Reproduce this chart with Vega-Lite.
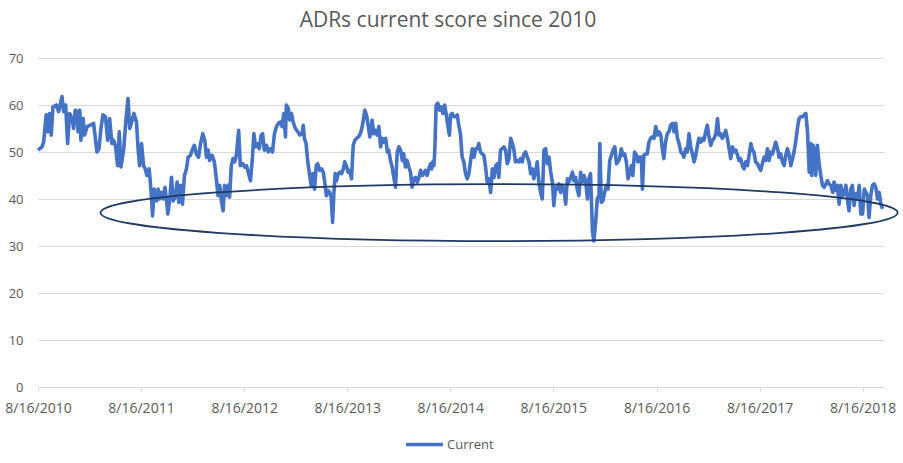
{
  "$schema": "https://vega.github.io/schema/vega-lite/v6.json",
  "width": 846,
  "height": 329,
  "autosize": {"type": "none"},
  "padding": {"left": 38, "top": 58, "right": 19, "bottom": 76},
  "background": "white",
  "config": {
    "view": {"stroke": null},
    "font": "Open Sans"
  },
  "title": {
    "text": "ADRs current score since 2010",
    "font": "Open Sans",
    "fontSize": 21,
    "fontWeight": "normal",
    "color": "#595959",
    "anchor": "middle",
    "dx": -13,
    "offset": 21
  },
  "layer": [
    {
      "data": {
        "values": [
          {"date": "2010-08-16", "score": 50.4},
          {"date": "2010-08-30", "score": 51.1},
          {"date": "2010-09-05", "score": 52.1},
          {"date": "2010-09-14", "score": 57.9},
          {"date": "2010-09-20", "score": 54.3},
          {"date": "2010-09-26", "score": 58.2},
          {"date": "2010-10-02", "score": 53.6},
          {"date": "2010-10-08", "score": 59.6},
          {"date": "2010-10-20", "score": 60},
          {"date": "2010-10-28", "score": 58.6},
          {"date": "2010-11-09", "score": 61.8},
          {"date": "2010-11-15", "score": 58.6},
          {"date": "2010-11-22", "score": 60},
          {"date": "2010-11-29", "score": 51.8},
          {"date": "2010-12-06", "score": 58.2},
          {"date": "2010-12-15", "score": 57.1},
          {"date": "2010-12-20", "score": 55},
          {"date": "2010-12-26", "score": 58.9},
          {"date": "2011-01-01", "score": 58.6},
          {"date": "2011-01-05", "score": 54.3},
          {"date": "2011-01-11", "score": 58.9},
          {"date": "2011-01-15", "score": 52.5},
          {"date": "2011-01-23", "score": 57.1},
          {"date": "2011-01-28", "score": 53.6},
          {"date": "2011-02-06", "score": 55.4},
          {"date": "2011-02-17", "score": 55.7},
          {"date": "2011-03-01", "score": 56.1},
          {"date": "2011-03-13", "score": 50},
          {"date": "2011-03-20", "score": 50.7},
          {"date": "2011-03-27", "score": 55},
          {"date": "2011-04-03", "score": 57.9},
          {"date": "2011-04-12", "score": 57.5},
          {"date": "2011-04-20", "score": 52.5},
          {"date": "2011-04-27", "score": 57.1},
          {"date": "2011-05-05", "score": 51.8},
          {"date": "2011-05-11", "score": 52.5},
          {"date": "2011-05-18", "score": 51.1},
          {"date": "2011-05-25", "score": 47.1},
          {"date": "2011-05-31", "score": 54.3},
          {"date": "2011-06-06", "score": 46.8},
          {"date": "2011-06-16", "score": 50.7},
          {"date": "2011-06-23", "score": 56.4},
          {"date": "2011-07-01", "score": 61.4},
          {"date": "2011-07-07", "score": 55},
          {"date": "2011-07-14", "score": 56.4},
          {"date": "2011-07-22", "score": 58.2},
          {"date": "2011-07-31", "score": 56.4},
          {"date": "2011-08-06", "score": 50.4},
          {"date": "2011-08-11", "score": 47.1},
          {"date": "2011-08-18", "score": 51.8},
          {"date": "2011-08-25", "score": 47.1},
          {"date": "2011-08-31", "score": 46.4},
          {"date": "2011-09-06", "score": 45},
          {"date": "2011-09-14", "score": 46.4},
          {"date": "2011-09-21", "score": 41.4},
          {"date": "2011-09-26", "score": 36.4},
          {"date": "2011-10-02", "score": 42.1},
          {"date": "2011-10-10", "score": 39.6},
          {"date": "2011-10-16", "score": 42.1},
          {"date": "2011-10-21", "score": 40},
          {"date": "2011-10-28", "score": 41.4},
          {"date": "2011-11-03", "score": 40},
          {"date": "2011-11-09", "score": 42.5},
          {"date": "2011-11-16", "score": 38.9},
          {"date": "2011-11-19", "score": 36.8},
          {"date": "2011-11-26", "score": 40},
          {"date": "2011-12-02", "score": 44.6},
          {"date": "2011-12-08", "score": 39.6},
          {"date": "2011-12-15", "score": 40.4},
          {"date": "2011-12-22", "score": 43.6},
          {"date": "2011-12-28", "score": 39.3},
          {"date": "2012-01-03", "score": 42.9},
          {"date": "2012-01-10", "score": 38.9},
          {"date": "2012-01-17", "score": 45},
          {"date": "2012-01-24", "score": 46.4},
          {"date": "2012-01-30", "score": 48.9},
          {"date": "2012-02-07", "score": 49.3},
          {"date": "2012-02-15", "score": 50.7},
          {"date": "2012-02-21", "score": 51.4},
          {"date": "2012-02-28", "score": 49.6},
          {"date": "2012-03-07", "score": 48.9},
          {"date": "2012-03-14", "score": 51.8},
          {"date": "2012-03-22", "score": 53.9},
          {"date": "2012-03-29", "score": 52.5},
          {"date": "2012-04-04", "score": 48.9},
          {"date": "2012-04-10", "score": 50.4},
          {"date": "2012-04-15", "score": 48.2},
          {"date": "2012-04-24", "score": 49.3},
          {"date": "2012-05-02", "score": 47.9},
          {"date": "2012-05-09", "score": 44.3},
          {"date": "2012-05-15", "score": 40.7},
          {"date": "2012-05-21", "score": 42.9},
          {"date": "2012-05-27", "score": 39.6},
          {"date": "2012-06-02", "score": 37.5},
          {"date": "2012-06-07", "score": 42.9},
          {"date": "2012-06-13", "score": 40.7},
          {"date": "2012-06-20", "score": 42.9},
          {"date": "2012-06-25", "score": 40.4},
          {"date": "2012-07-01", "score": 47.1},
          {"date": "2012-07-07", "score": 48.6},
          {"date": "2012-07-13", "score": 47.9},
          {"date": "2012-07-19", "score": 49.3},
          {"date": "2012-07-27", "score": 54.6},
          {"date": "2012-08-02", "score": 47.1},
          {"date": "2012-08-11", "score": 47.5},
          {"date": "2012-08-17", "score": 46.8},
          {"date": "2012-08-24", "score": 47.1},
          {"date": "2012-08-30", "score": 45.7},
          {"date": "2012-09-07", "score": 43.9},
          {"date": "2012-09-14", "score": 48.9},
          {"date": "2012-09-19", "score": 53.9},
          {"date": "2012-09-25", "score": 51.1},
          {"date": "2012-10-01", "score": 51.8},
          {"date": "2012-10-08", "score": 50.7},
          {"date": "2012-10-15", "score": 53.6},
          {"date": "2012-10-20", "score": 53.9},
          {"date": "2012-10-26", "score": 50.4},
          {"date": "2012-11-03", "score": 51.4},
          {"date": "2012-11-09", "score": 50},
          {"date": "2012-11-17", "score": 50.7},
          {"date": "2012-11-24", "score": 50},
          {"date": "2012-12-01", "score": 53.9},
          {"date": "2012-12-08", "score": 55.4},
          {"date": "2012-12-15", "score": 56.1},
          {"date": "2012-12-22", "score": 56.4},
          {"date": "2012-12-28", "score": 55.4},
          {"date": "2013-01-03", "score": 58.2},
          {"date": "2013-01-09", "score": 53.2},
          {"date": "2013-01-12", "score": 60},
          {"date": "2013-01-19", "score": 59.3},
          {"date": "2013-01-24", "score": 56.8},
          {"date": "2013-01-30", "score": 58.2},
          {"date": "2013-02-05", "score": 56.4},
          {"date": "2013-02-13", "score": 55},
          {"date": "2013-02-22", "score": 54.3},
          {"date": "2013-03-01", "score": 53.6},
          {"date": "2013-03-09", "score": 53.9},
          {"date": "2013-03-13", "score": 55.7},
          {"date": "2013-03-17", "score": 52.9},
          {"date": "2013-03-23", "score": 51.8},
          {"date": "2013-03-29", "score": 47.9},
          {"date": "2013-04-05", "score": 45},
          {"date": "2013-04-10", "score": 42.9},
          {"date": "2013-04-16", "score": 45.4},
          {"date": "2013-04-22", "score": 42.1},
          {"date": "2013-04-28", "score": 47.1},
          {"date": "2013-05-03", "score": 47.5},
          {"date": "2013-05-11", "score": 46.1},
          {"date": "2013-05-17", "score": 46.4},
          {"date": "2013-05-23", "score": 45.7},
          {"date": "2013-05-28", "score": 43.6},
          {"date": "2013-06-03", "score": 40.7},
          {"date": "2013-06-09", "score": 41.8},
          {"date": "2013-06-15", "score": 41.4},
          {"date": "2013-06-20", "score": 40.4},
          {"date": "2013-06-25", "score": 35},
          {"date": "2013-06-29", "score": 40.7},
          {"date": "2013-07-04", "score": 45.4},
          {"date": "2013-07-09", "score": 43.9},
          {"date": "2013-07-15", "score": 45.4},
          {"date": "2013-07-21", "score": 45.7},
          {"date": "2013-07-27", "score": 45.4},
          {"date": "2013-08-02", "score": 46.4},
          {"date": "2013-08-07", "score": 47.9},
          {"date": "2013-08-13", "score": 47.1},
          {"date": "2013-08-19", "score": 45.7},
          {"date": "2013-08-25", "score": 46.1},
          {"date": "2013-08-31", "score": 44.3},
          {"date": "2013-09-06", "score": 51.4},
          {"date": "2013-09-12", "score": 52.5},
          {"date": "2013-09-18", "score": 52.9},
          {"date": "2013-09-24", "score": 53.2},
          {"date": "2013-09-29", "score": 53.6},
          {"date": "2013-10-05", "score": 54.6},
          {"date": "2013-10-11", "score": 56.4},
          {"date": "2013-10-17", "score": 58.9},
          {"date": "2013-10-23", "score": 57.9},
          {"date": "2013-10-29", "score": 55.7},
          {"date": "2013-11-04", "score": 53.2},
          {"date": "2013-11-09", "score": 55},
          {"date": "2013-11-12", "score": 56.8},
          {"date": "2013-11-18", "score": 53.9},
          {"date": "2013-11-24", "score": 54.6},
          {"date": "2013-11-30", "score": 53.6},
          {"date": "2013-12-06", "score": 55.4},
          {"date": "2013-12-12", "score": 51.1},
          {"date": "2013-12-18", "score": 52.9},
          {"date": "2013-12-23", "score": 52.1},
          {"date": "2013-12-30", "score": 52.9},
          {"date": "2014-01-05", "score": 50},
          {"date": "2014-01-10", "score": 50.4},
          {"date": "2014-01-16", "score": 48.2},
          {"date": "2014-01-22", "score": 46.8},
          {"date": "2014-01-28", "score": 44.6},
          {"date": "2014-02-03", "score": 42.5},
          {"date": "2014-02-09", "score": 50},
          {"date": "2014-02-15", "score": 51.1},
          {"date": "2014-02-21", "score": 50.4},
          {"date": "2014-02-27", "score": 48.2},
          {"date": "2014-03-04", "score": 49.6},
          {"date": "2014-03-10", "score": 46.8},
          {"date": "2014-03-16", "score": 48.2},
          {"date": "2014-03-22", "score": 46.8},
          {"date": "2014-03-28", "score": 45.7},
          {"date": "2014-04-03", "score": 42.5},
          {"date": "2014-04-09", "score": 44.3},
          {"date": "2014-04-15", "score": 44.6},
          {"date": "2014-04-21", "score": 43.6},
          {"date": "2014-04-27", "score": 44.6},
          {"date": "2014-05-03", "score": 46.1},
          {"date": "2014-05-09", "score": 45},
          {"date": "2014-05-14", "score": 45.4},
          {"date": "2014-05-20", "score": 46.1},
          {"date": "2014-05-26", "score": 45},
          {"date": "2014-06-01", "score": 46.4},
          {"date": "2014-06-07", "score": 47.5},
          {"date": "2014-06-11", "score": 46.4},
          {"date": "2014-06-15", "score": 47.9},
          {"date": "2014-06-19", "score": 47.1},
          {"date": "2014-06-22", "score": 50},
          {"date": "2014-06-27", "score": 60},
          {"date": "2014-07-03", "score": 60.4},
          {"date": "2014-07-09", "score": 58.9},
          {"date": "2014-07-15", "score": 59.6},
          {"date": "2014-07-21", "score": 58.2},
          {"date": "2014-07-27", "score": 60},
          {"date": "2014-08-02", "score": 57.9},
          {"date": "2014-08-07", "score": 55.7},
          {"date": "2014-08-13", "score": 53.6},
          {"date": "2014-08-17", "score": 57.9},
          {"date": "2014-08-23", "score": 58.2},
          {"date": "2014-08-29", "score": 57.5},
          {"date": "2014-09-04", "score": 57.5},
          {"date": "2014-09-10", "score": 57.9},
          {"date": "2014-09-15", "score": 55.7},
          {"date": "2014-09-21", "score": 53.9},
          {"date": "2014-09-27", "score": 48.9},
          {"date": "2014-10-03", "score": 47.9},
          {"date": "2014-10-09", "score": 45.4},
          {"date": "2014-10-15", "score": 44.3},
          {"date": "2014-10-21", "score": 45.4},
          {"date": "2014-10-27", "score": 48.2},
          {"date": "2014-11-02", "score": 50.7},
          {"date": "2014-11-08", "score": 48.9},
          {"date": "2014-11-14", "score": 50.7},
          {"date": "2014-11-20", "score": 50.7},
          {"date": "2014-11-25", "score": 51.8},
          {"date": "2014-12-01", "score": 50},
          {"date": "2014-12-07", "score": 49.6},
          {"date": "2014-12-13", "score": 49.3},
          {"date": "2014-12-19", "score": 46.8},
          {"date": "2014-12-25", "score": 43.6},
          {"date": "2014-12-31", "score": 44.3},
          {"date": "2015-01-06", "score": 41.4},
          {"date": "2015-01-12", "score": 46.4},
          {"date": "2015-01-18", "score": 44.6},
          {"date": "2015-01-24", "score": 47.1},
          {"date": "2015-01-30", "score": 47.5},
          {"date": "2015-02-04", "score": 44.6},
          {"date": "2015-02-10", "score": 50.4},
          {"date": "2015-02-16", "score": 50.7},
          {"date": "2015-02-22", "score": 51.1},
          {"date": "2015-02-28", "score": 50.4},
          {"date": "2015-03-06", "score": 47.5},
          {"date": "2015-03-12", "score": 48.6},
          {"date": "2015-03-18", "score": 52.9},
          {"date": "2015-03-24", "score": 51.8},
          {"date": "2015-03-29", "score": 50.7},
          {"date": "2015-04-04", "score": 47.9},
          {"date": "2015-04-10", "score": 48.2},
          {"date": "2015-04-16", "score": 47.9},
          {"date": "2015-04-22", "score": 48.6},
          {"date": "2015-04-28", "score": 47.9},
          {"date": "2015-05-04", "score": 49.6},
          {"date": "2015-05-10", "score": 50},
          {"date": "2015-05-16", "score": 48.9},
          {"date": "2015-05-22", "score": 47.9},
          {"date": "2015-05-28", "score": 45.4},
          {"date": "2015-06-03", "score": 46.4},
          {"date": "2015-06-08", "score": 44.3},
          {"date": "2015-06-14", "score": 45.7},
          {"date": "2015-06-20", "score": 47.9},
          {"date": "2015-06-26", "score": 43.6},
          {"date": "2015-07-02", "score": 41.4},
          {"date": "2015-07-08", "score": 40},
          {"date": "2015-07-14", "score": 50.4},
          {"date": "2015-07-20", "score": 50.7},
          {"date": "2015-07-26", "score": 47.5},
          {"date": "2015-08-01", "score": 48.9},
          {"date": "2015-08-07", "score": 45.7},
          {"date": "2015-08-13", "score": 43.6},
          {"date": "2015-08-18", "score": 38.6},
          {"date": "2015-08-24", "score": 42.5},
          {"date": "2015-08-30", "score": 42.1},
          {"date": "2015-09-05", "score": 43.2},
          {"date": "2015-09-11", "score": 41.4},
          {"date": "2015-09-17", "score": 42.9},
          {"date": "2015-09-23", "score": 42.1},
          {"date": "2015-09-29", "score": 38.9},
          {"date": "2015-10-05", "score": 44.3},
          {"date": "2015-10-10", "score": 43.6},
          {"date": "2015-10-17", "score": 44.6},
          {"date": "2015-10-23", "score": 45.7},
          {"date": "2015-10-28", "score": 43.9},
          {"date": "2015-11-03", "score": 44.6},
          {"date": "2015-11-09", "score": 42.1},
          {"date": "2015-11-15", "score": 40.7},
          {"date": "2015-11-21", "score": 45.7},
          {"date": "2015-11-27", "score": 43.6},
          {"date": "2015-12-03", "score": 45},
          {"date": "2015-12-09", "score": 43.6},
          {"date": "2015-12-15", "score": 40},
          {"date": "2015-12-20", "score": 44.3},
          {"date": "2015-12-26", "score": 45.4},
          {"date": "2016-01-02", "score": 32.9},
          {"date": "2016-01-07", "score": 31.1},
          {"date": "2016-01-13", "score": 35},
          {"date": "2016-01-19", "score": 40},
          {"date": "2016-01-25", "score": 40.7},
          {"date": "2016-01-28", "score": 51.8},
          {"date": "2016-02-02", "score": 39.3},
          {"date": "2016-02-08", "score": 39.6},
          {"date": "2016-02-14", "score": 41.4},
          {"date": "2016-02-20", "score": 42.9},
          {"date": "2016-02-26", "score": 42.1},
          {"date": "2016-03-03", "score": 48.2},
          {"date": "2016-03-09", "score": 49.3},
          {"date": "2016-03-15", "score": 50.4},
          {"date": "2016-03-21", "score": 51.1},
          {"date": "2016-03-27", "score": 47.5},
          {"date": "2016-04-01", "score": 47.9},
          {"date": "2016-04-07", "score": 48.6},
          {"date": "2016-04-13", "score": 50.7},
          {"date": "2016-04-19", "score": 49.3},
          {"date": "2016-04-25", "score": 49.6},
          {"date": "2016-05-01", "score": 47.9},
          {"date": "2016-05-07", "score": 44.3},
          {"date": "2016-05-13", "score": 45.7},
          {"date": "2016-05-19", "score": 47.1},
          {"date": "2016-05-24", "score": 45},
          {"date": "2016-05-30", "score": 50},
          {"date": "2016-06-06", "score": 49.3},
          {"date": "2016-06-11", "score": 47.9},
          {"date": "2016-06-17", "score": 48.9},
          {"date": "2016-06-23", "score": 48.9},
          {"date": "2016-06-27", "score": 42.1},
          {"date": "2016-07-02", "score": 49.3},
          {"date": "2016-07-08", "score": 49.6},
          {"date": "2016-07-14", "score": 49.6},
          {"date": "2016-07-20", "score": 52.1},
          {"date": "2016-07-26", "score": 52.9},
          {"date": "2016-08-01", "score": 53.2},
          {"date": "2016-08-07", "score": 52.9},
          {"date": "2016-08-13", "score": 55.4},
          {"date": "2016-08-19", "score": 53.6},
          {"date": "2016-08-25", "score": 54.3},
          {"date": "2016-08-31", "score": 53.6},
          {"date": "2016-09-06", "score": 50.4},
          {"date": "2016-09-11", "score": 48.6},
          {"date": "2016-09-17", "score": 52.1},
          {"date": "2016-09-23", "score": 53.9},
          {"date": "2016-09-29", "score": 54.3},
          {"date": "2016-10-05", "score": 55.7},
          {"date": "2016-10-11", "score": 56.1},
          {"date": "2016-10-17", "score": 54.3},
          {"date": "2016-10-23", "score": 56.1},
          {"date": "2016-10-29", "score": 52.9},
          {"date": "2016-11-04", "score": 51.8},
          {"date": "2016-11-10", "score": 50},
          {"date": "2016-11-16", "score": 49.6},
          {"date": "2016-11-21", "score": 48.9},
          {"date": "2016-11-27", "score": 50.7},
          {"date": "2016-12-03", "score": 50},
          {"date": "2016-12-09", "score": 53.9},
          {"date": "2016-12-15", "score": 51.1},
          {"date": "2016-12-21", "score": 49.6},
          {"date": "2016-12-27", "score": 47.9},
          {"date": "2017-01-02", "score": 49.3},
          {"date": "2017-01-08", "score": 51.4},
          {"date": "2017-01-13", "score": 52.9},
          {"date": "2017-01-20", "score": 52.1},
          {"date": "2017-01-26", "score": 52.9},
          {"date": "2017-01-31", "score": 52.5},
          {"date": "2017-02-06", "score": 54.3},
          {"date": "2017-02-12", "score": 55.7},
          {"date": "2017-02-18", "score": 53.2},
          {"date": "2017-02-24", "score": 51.4},
          {"date": "2017-03-02", "score": 52.5},
          {"date": "2017-03-08", "score": 52.9},
          {"date": "2017-03-14", "score": 53.9},
          {"date": "2017-03-20", "score": 57.1},
          {"date": "2017-03-25", "score": 53.6},
          {"date": "2017-03-31", "score": 53.9},
          {"date": "2017-04-06", "score": 52.9},
          {"date": "2017-04-12", "score": 53.6},
          {"date": "2017-04-18", "score": 54.6},
          {"date": "2017-04-24", "score": 52.9},
          {"date": "2017-04-30", "score": 50.7},
          {"date": "2017-05-06", "score": 48.6},
          {"date": "2017-05-12", "score": 51.1},
          {"date": "2017-05-18", "score": 50},
          {"date": "2017-05-24", "score": 50.4},
          {"date": "2017-05-30", "score": 49.3},
          {"date": "2017-06-04", "score": 48.2},
          {"date": "2017-06-10", "score": 48.6},
          {"date": "2017-06-16", "score": 47.1},
          {"date": "2017-06-22", "score": 46.4},
          {"date": "2017-06-28", "score": 47.9},
          {"date": "2017-07-04", "score": 47.1},
          {"date": "2017-07-10", "score": 49.3},
          {"date": "2017-07-16", "score": 51.8},
          {"date": "2017-07-22", "score": 50.4},
          {"date": "2017-07-27", "score": 50},
          {"date": "2017-08-02", "score": 47.9},
          {"date": "2017-08-09", "score": 47.5},
          {"date": "2017-08-14", "score": 46.8},
          {"date": "2017-08-20", "score": 46.1},
          {"date": "2017-08-26", "score": 47.5},
          {"date": "2017-09-01", "score": 48.9},
          {"date": "2017-09-07", "score": 48.2},
          {"date": "2017-09-13", "score": 50.7},
          {"date": "2017-09-19", "score": 48.2},
          {"date": "2017-09-25", "score": 50},
          {"date": "2017-10-01", "score": 49.6},
          {"date": "2017-10-06", "score": 50.7},
          {"date": "2017-10-12", "score": 52.1},
          {"date": "2017-10-19", "score": 50.7},
          {"date": "2017-10-24", "score": 48.9},
          {"date": "2017-10-30", "score": 49.6},
          {"date": "2017-11-05", "score": 47.9},
          {"date": "2017-11-11", "score": 47.1},
          {"date": "2017-11-17", "score": 49.3},
          {"date": "2017-11-23", "score": 50.7},
          {"date": "2017-11-29", "score": 49.3},
          {"date": "2017-12-05", "score": 47.1},
          {"date": "2017-12-11", "score": 48.6},
          {"date": "2017-12-16", "score": 50},
          {"date": "2017-12-22", "score": 52.1},
          {"date": "2017-12-28", "score": 55},
          {"date": "2018-01-03", "score": 57.1},
          {"date": "2018-01-09", "score": 57.5},
          {"date": "2018-01-15", "score": 57.5},
          {"date": "2018-01-21", "score": 57.9},
          {"date": "2018-01-27", "score": 58.2},
          {"date": "2018-02-02", "score": 54.3},
          {"date": "2018-02-08", "score": 45.7},
          {"date": "2018-02-14", "score": 51.8},
          {"date": "2018-02-17", "score": 45},
          {"date": "2018-02-22", "score": 51.4},
          {"date": "2018-02-28", "score": 50},
          {"date": "2018-03-03", "score": 45},
          {"date": "2018-03-09", "score": 51.4},
          {"date": "2018-03-15", "score": 47.5},
          {"date": "2018-03-21", "score": 45},
          {"date": "2018-03-27", "score": 42.9},
          {"date": "2018-04-02", "score": 42.5},
          {"date": "2018-04-08", "score": 43.2},
          {"date": "2018-04-14", "score": 43.9},
          {"date": "2018-04-19", "score": 43.2},
          {"date": "2018-04-26", "score": 42.9},
          {"date": "2018-05-02", "score": 41.4},
          {"date": "2018-05-07", "score": 43.6},
          {"date": "2018-05-13", "score": 41.8},
          {"date": "2018-05-19", "score": 42.9},
          {"date": "2018-05-25", "score": 38.9},
          {"date": "2018-05-31", "score": 42.9},
          {"date": "2018-06-06", "score": 40.7},
          {"date": "2018-06-12", "score": 41.1},
          {"date": "2018-06-18", "score": 42.9},
          {"date": "2018-06-24", "score": 39.6},
          {"date": "2018-06-29", "score": 37.5},
          {"date": "2018-07-05", "score": 42.1},
          {"date": "2018-07-11", "score": 42.9},
          {"date": "2018-07-17", "score": 38.6},
          {"date": "2018-07-23", "score": 41.1},
          {"date": "2018-07-29", "score": 40},
          {"date": "2018-08-04", "score": 42.9},
          {"date": "2018-08-10", "score": 36.8},
          {"date": "2018-08-16", "score": 36.8},
          {"date": "2018-08-22", "score": 42.1},
          {"date": "2018-08-28", "score": 41.4},
          {"date": "2018-09-03", "score": 40.7},
          {"date": "2018-09-08", "score": 36.1},
          {"date": "2018-09-14", "score": 40.7},
          {"date": "2018-09-20", "score": 42.9},
          {"date": "2018-09-26", "score": 43.2},
          {"date": "2018-10-02", "score": 42.5},
          {"date": "2018-10-08", "score": 40},
          {"date": "2018-10-14", "score": 41.4},
          {"date": "2018-10-20", "score": 38.9},
          {"date": "2018-10-26", "score": 37.9}
        ]
      },
      "mark": {
        "type": "line",
        "strokeWidth": 3.6,
        "strokeJoin": "round",
        "interpolate": "linear"
      },
      "encoding": {
        "x": {
          "field": "date",
          "type": "temporal",
          "title": null,
          "scale": {"type": "utc", "domain": ["2010-08-16", "2018-10-31"]},
          "axis": {
            "format": "%-m/%-d/%Y",
            "values": [
              {"year": 2010, "month": 8, "date": 16, "utc": true},
              {"year": 2011, "month": 8, "date": 16, "utc": true},
              {"year": 2012, "month": 8, "date": 16, "utc": true},
              {"year": 2013, "month": 8, "date": 16, "utc": true},
              {"year": 2014, "month": 8, "date": 16, "utc": true},
              {"year": 2015, "month": 8, "date": 16, "utc": true},
              {"year": 2016, "month": 8, "date": 16, "utc": true},
              {"year": 2017, "month": 8, "date": 16, "utc": true},
              {"year": 2018, "month": 8, "date": 16, "utc": true}
            ],
            "grid": false,
            "domainColor": "#D9D9D9",
            "domainWidth": 1,
            "tickColor": "#D9D9D9",
            "tickSize": 4,
            "labelFont": "Open Sans",
            "labelFontSize": 14,
            "labelColor": "#595959",
            "labelPadding": 10,
            "labelOverlap": false,
            "labelFlush": false
          }
        },
        "y": {
          "field": "score",
          "type": "quantitative",
          "title": null,
          "scale": {"domain": [0, 70], "nice": false},
          "axis": {
            "values": [0, 10, 20, 30, 40, 50, 60, 70],
            "domain": false,
            "ticks": false,
            "tickSize": 0,
            "gridColor": "#D9D9D9",
            "gridWidth": 1,
            "labelFont": "Open Sans",
            "labelFontSize": 13,
            "labelColor": "#595959",
            "labelPadding": 15
          }
        },
        "color": {
          "datum": "Current",
          "type": "nominal",
          "scale": {"range": ["#4472C4"]},
          "legend": {
            "title": null,
            "orient": "none",
            "legendX": 366,
            "legendY": 366,
            "symbolType": "stroke",
            "symbolSize": 1369,
            "symbolStrokeWidth": 3.3,
            "labelFont": "Open Sans",
            "labelFontSize": 13,
            "labelColor": "#595959",
            "labelOffset": 2
          }
        }
      }
    },
    {
      "data": {"values": [{"date": "2015-02-05", "score": 37.1}]},
      "mark": {
        "type": "point",
        "shape": "M-1,0C-1,-0.0395,-0.5523,-0.0715,0,-0.0715C0.5523,-0.0715,1,-0.0395,1,0C1,0.0395,0.5523,0.0715,0,0.0715C-0.5523,0.0715,-1,0.0395,-1,0Z",
        "size": 635500,
        "filled": false,
        "stroke": "#1F3864",
        "strokeWidth": 1.75,
        "opacity": 1
      },
      "encoding": {
        "x": {"field": "date", "type": "temporal"},
        "y": {"field": "score", "type": "quantitative"}
      }
    }
  ]
}
